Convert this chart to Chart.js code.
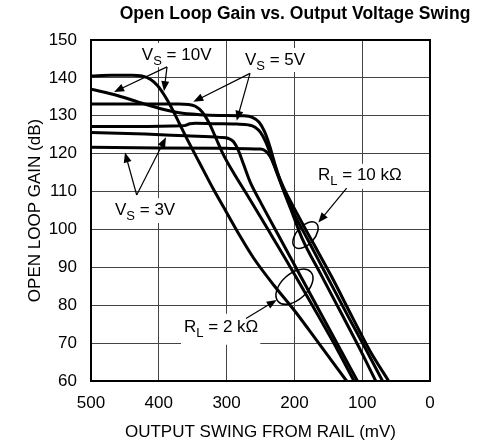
<!DOCTYPE html>
<html>
<head>
<meta charset="utf-8">
<title>Open Loop Gain vs. Output Voltage Swing</title>
<script src="https://cdn.jsdelivr.net/npm/chart.js@4.4.1/dist/chart.umd.min.js"></script>
<style>
  html, body { margin: 0; padding: 0; background: #fff; }
  canvas { display: block; }
</style>
</head>
<body>
<canvas id="gainChart" width="482" height="447"></canvas>
<script>
// Output swing from rail (mV) vs open loop gain (dB)
const vs10Rl2kSwing = [500, 470, 440, 425, 412, 402, 392, 382, 370, 355, 340, 320, 300, 280, 260, 230, 200, 165, 123];
const vs10Rl2kGain  = [140.5, 140.7, 140.7, 140.5, 139.6, 138.0, 135.5, 132.4, 128.1, 122.7, 117.6, 110.8, 104.5, 98.2, 92.4, 85.2, 78.6, 70.2, 60];

const vs10Rl10kSwing = [500, 460, 430, 400, 370, 340, 310, 275, 262, 252, 244, 236, 228, 218, 205, 189, 160, 130, 105, 80];
const vs10Rl10kGain  = [137.0, 135.3, 133.6, 132.0, 130.8, 130.3, 130.1, 130.0, 129.6, 128.3, 125.8, 121.8, 116.8, 111.3, 105.2, 97.8, 87.8, 77.6, 69.0, 60];

const vs5Rl2kSwing = [500, 420, 370, 356, 346, 336, 326, 316, 305, 290, 270, 250, 232, 210, 180, 145, 112];
const vs5Rl2kGain  = [133.1, 133.1, 133.1, 133.0, 132.5, 131.0, 128.2, 124.2, 119.8, 115.0, 109.2, 103.3, 97.9, 91.3, 82.0, 71.0, 60];

const vs5Rl10kSwing = [500, 430, 380, 362, 354, 346, 320, 285, 268, 258, 250, 242, 234, 226, 215, 200, 180, 150, 120, 95, 70];
const vs5Rl10kGain  = [127.2, 127.2, 127.3, 127.4, 127.9, 128.0, 127.9, 127.8, 127.6, 127.0, 125.6, 123.0, 119.2, 115.0, 110.0, 104.0, 97.2, 87.0, 76.8, 68.5, 60];

const vs3Rl2kSwing = [500, 420, 360, 310, 297, 290, 283, 275, 265, 250, 220, 190, 160, 130, 107];
const vs3Rl2kGain  = [125.6, 125.2, 124.7, 124.3, 124.0, 123.2, 121.0, 117.2, 112.4, 107.2, 97.3, 87.4, 77.5, 67.6, 60];

const vs3Rl10kSwing = [500, 400, 300, 250, 242, 236, 230, 223, 214, 200, 185, 171, 145, 115, 88, 61];
const vs3Rl10kGain  = [121.7, 121.5, 121.4, 121.2, 120.6, 119.3, 117.0, 114.0, 110.3, 105.5, 100.5, 96.0, 87.5, 77.0, 67.8, 60];

const swingTicks = [500, 400, 300, 200, 100, 0];
const gainTicks = [60, 70, 80, 90, 100, 110, 120, 130, 140, 150];

// callout text, anchored at (swing, gain) = left end of the baseline
const labels = [
    { main: 'V', sub: 'S', rest: ' = 10V', swing: 425, gain: 144.7, box: [17, 3, 7, 3] },
    { main: 'V', sub: 'S', rest: ' = 5V', swing: 273, gain: 143.4, box: [17, 3, 7, 3] },
    { main: 'V', sub: 'S', rest: ' = 3V', swing: 464.6, gain: 103.8, box: [17, 3, 8, 3] },
    { main: 'R', sub: 'L', rest: ' = 10 k\u03A9', swing: 165.2, gain: 113.1, box: [16, 3, 9, 3] },
    { main: 'R', sub: 'L', rest: ' = 2 k\u03A9', swing: 362.8, gain: 73.0, box: [18, 2, 13, 3] }
];

const arrows = [
    { from: [387.9, 142.9], to: [466, 136.3] },
    { from: [387.9, 142.9], to: [392.3, 136.5] },
    { from: [265.5, 141.2], to: [349.1, 133.7] },
    { from: [265.5, 141.2], to: [285.1, 128.7] },
    { from: [432.6, 109.1], to: [449.9, 120.3] },
    { from: [432.6, 109.1], to: [389.4, 124.3] },
    { from: [122.9, 110.9], to: [164.7, 101.8] },
    { from: [271.4, 76.5], to: [226.1, 81.4] }
];

const rings = [
    { swing: 183.6, gain: 98.5, rx: 16, ry: 9, angle: -48 },
    { swing: 199.9, gain: 84.9, rx: 22, ry: 13, angle: -42 }
];

const FONT = "'Liberation Sans', Arial, Helvetica, sans-serif";
Chart.defaults.font.family = FONT;
Chart.defaults.color = '#000';

function toPoints(xs, ys) {
    return xs.map((x, i) => ({ x: x, y: ys[i] }));
}

function curve(xs, ys) {
    return {
        data: toPoints(xs, ys),
        borderColor: '#000',
        borderWidth: 3,
        pointRadius: 0,
        fill: false,
        cubicInterpolationMode: 'monotone'
    };
}

function toPx(chart, swing, gain) {
    return [chart.scales.x.getPixelForValue(swing), chart.scales.y.getPixelForValue(gain)];
}

function labelWidth(ctx, l) {
    ctx.font = '17px ' + FONT;
    let w = ctx.measureText(l.main).width + ctx.measureText(l.rest).width;
    ctx.font = '13px ' + FONT;
    return w + ctx.measureText(l.sub).width;
}

function drawArrow(ctx, x0, y0, x1, y1) {
    const ang = Math.atan2(y1 - y0, x1 - x0);
    const len = 10, half = 4;
    ctx.beginPath();
    ctx.moveTo(x0, y0);
    ctx.lineTo(x1 - Math.cos(ang) * len * 0.8, y1 - Math.sin(ang) * len * 0.8);
    ctx.stroke();
    ctx.beginPath();
    ctx.moveTo(x1, y1);
    ctx.lineTo(x1 - Math.cos(ang) * len - Math.sin(ang) * half, y1 - Math.sin(ang) * len + Math.cos(ang) * half);
    ctx.lineTo(x1 - Math.cos(ang) * len + Math.sin(ang) * half, y1 - Math.sin(ang) * len - Math.cos(ang) * half);
    ctx.closePath();
    ctx.fill();
}

const notesPlugin = {
    id: 'notes',
    beforeDatasetsDraw(chart) {
        const ctx = chart.ctx;
        const a = chart.chartArea;
        ctx.save();
        // white patches behind the callout text
        ctx.fillStyle = '#fff';
        labels.forEach(l => {
            const [x, y] = toPx(chart, l.swing, l.gain);
            const w = labelWidth(ctx, l);
            ctx.fillRect(x - l.box[3], y - l.box[0], w + l.box[1] + l.box[3], l.box[0] + l.box[2]);
        });
        // full frame round the plot
        ctx.strokeStyle = '#000';
        ctx.lineWidth = 2;
        ctx.strokeRect(a.left, a.top, a.right - a.left, a.bottom - a.top);
        ctx.restore();
    },
    afterDatasetsDraw(chart) {
        const ctx = chart.ctx;
        ctx.save();
        ctx.strokeStyle = '#000';
        ctx.fillStyle = '#000';
        ctx.lineWidth = 1.2;
        arrows.forEach(ar => {
            const [x0, y0] = toPx(chart, ar.from[0], ar.from[1]);
            const [x1, y1] = toPx(chart, ar.to[0], ar.to[1]);
            drawArrow(ctx, x0, y0, x1, y1);
        });
        ctx.lineWidth = 1.5;
        rings.forEach(r => {
            const [cx, cy] = toPx(chart, r.swing, r.gain);
            ctx.beginPath();
            ctx.ellipse(cx, cy, r.rx, r.ry, r.angle * Math.PI / 180, 0, Math.PI * 2);
            ctx.stroke();
        });
        ctx.textBaseline = 'alphabetic';
        ctx.textAlign = 'left';
        labels.forEach(l => {
            let [x, y] = toPx(chart, l.swing, l.gain);
            ctx.font = '17px ' + FONT;
            ctx.fillText(l.main, x, y);
            x += ctx.measureText(l.main).width;
            ctx.font = '13px ' + FONT;
            ctx.fillText(l.sub, x, y + 5);
            x += ctx.measureText(l.sub).width;
            ctx.font = '17px ' + FONT;
            ctx.fillText(l.rest, x, y);
        });
        ctx.restore();
    },
    afterDraw(chart) {
        const ctx = chart.ctx;
        ctx.save();
        ctx.font = 'bold 17.5px ' + FONT;
        ctx.fillStyle = '#000';
        ctx.textAlign = 'center';
        ctx.textBaseline = 'alphabetic';
        ctx.fillText('Open Loop Gain vs. Output Voltage Swing', 295, 19);
        ctx.restore();
    }
};

new Chart(document.getElementById('gainChart').getContext('2d'), {
    type: 'line',
    data: {
        datasets: [
            curve(vs10Rl2kSwing, vs10Rl2kGain),
            curve(vs10Rl10kSwing, vs10Rl10kGain),
            curve(vs5Rl2kSwing, vs5Rl2kGain),
            curve(vs5Rl10kSwing, vs5Rl10kGain),
            curve(vs3Rl2kSwing, vs3Rl2kGain),
            curve(vs3Rl10kSwing, vs3Rl10kGain)
        ]
    },
    options: {
        responsive: false,
        animation: false,
        devicePixelRatio: 1,
        layout: { padding: { top: 40, right: 52, left: 0, bottom: 0 } },
        plugins: {
            legend: { display: false },
            tooltip: { enabled: false }
        },
        scales: {
            x: {
                type: 'linear',
                reverse: true,
                min: swingTicks[swingTicks.length - 1],
                max: swingTicks[0],
                afterFit: s => { s.height = 66; },
                afterBuildTicks: s => { s.ticks = swingTicks.map(v => ({ value: v })); },
                ticks: { font: { size: 17 }, padding: 12, color: '#000' },
                grid: { color: '#444', lineWidth: 1, drawTicks: false },
                border: { color: '#000', width: 2 },
                title: {
                    display: true,
                    text: 'OUTPUT SWING FROM RAIL (mV)',
                    font: { size: 17 },
                    color: '#000',
                    padding: { top: 0, bottom: 4 }
                }
            },
            y: {
                min: gainTicks[0],
                max: gainTicks[gainTicks.length - 1],
                afterFit: s => { s.width = 91; },
                afterBuildTicks: s => { s.ticks = gainTicks.map(v => ({ value: v })); },
                ticks: { font: { size: 17 }, padding: 14, color: '#000' },
                grid: { color: '#444', lineWidth: 1, drawTicks: false },
                border: { color: '#000', width: 2 },
                title: {
                    display: true,
                    text: 'OPEN LOOP GAIN (dB)',
                    font: { size: 17 },
                    color: '#000',
                    padding: { top: 25, bottom: 0 }
                }
            }
        }
    },
    plugins: [notesPlugin]
});
</script>
</body>
</html>
